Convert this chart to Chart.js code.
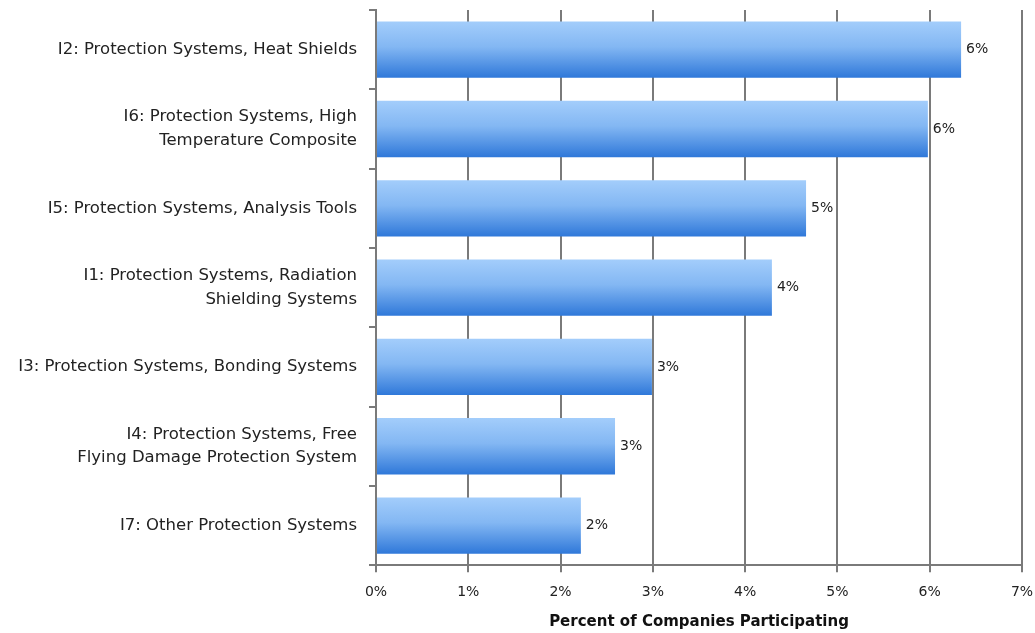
<!DOCTYPE html>
<html>
<head>
<meta charset="utf-8">
<script src="https://cdn.jsdelivr.net/npm/chart.js@4/dist/chart.umd.min.js"></script>
<style>
  html, body { margin: 0; padding: 0; background: #fff; }
  #wrap { width: 1035px; height: 633px; }
</style>
</head>
<body>
<div id="wrap"><canvas id="chart"></canvas></div>
<script>
const categories = [
  "I2: Protection Systems, Heat Shields",
  ["I6: Protection Systems, High", "Temperature Composite"],
  "I5: Protection Systems, Analysis Tools",
  ["I1: Protection Systems, Radiation", "Shielding Systems"],
  "I3: Protection Systems, Bonding Systems",
  ["I4: Protection Systems, Free", "Flying Damage Protection System"],
  "I7: Other Protection Systems"
];
const percentValues = [6.34, 5.98, 4.66, 4.29, 2.99, 2.59, 2.22];
const valueLabels = ["6%", "6%", "5%", "4%", "3%", "3%", "2%"];
const xTicks = [0, 1, 2, 3, 4, 5, 6, 7];

const barPct = 0.71;
const fontFamily = "'DejaVu Sans', sans-serif";

function barGradient(ctx) {
  const chart = ctx.chart;
  const yScale = chart.scales.y;
  if (!chart.chartArea || !yScale) return "#5fa0ec";
  const band = (yScale.bottom - yScale.top) / categories.length;
  const cy = yScale.getPixelForValue(ctx.dataIndex);
  const h = band * barPct / 2;
  const g = chart.ctx.createLinearGradient(0, cy - h, 0, cy + h);
  g.addColorStop(0, "#a3cdfb");
  g.addColorStop(0.45, "#83b7f3");
  g.addColorStop(1, "#2f78d9");
  return g;
}

// percent labels just past the end of each bar
const valueLabelPlugin = {
  id: "valueLabels",
  afterDatasetsDraw(chart) {
    const c = chart.ctx;
    const meta = chart.getDatasetMeta(0);
    c.save();
    c.font = "14px " + fontFamily;
    c.fillStyle = "#222";
    c.textBaseline = "middle";
    meta.data.forEach((bar, i) => {
      c.fillText(valueLabels[i], bar.x + 5, bar.y);
    });
    c.restore();
  }
};

new Chart(document.getElementById("chart"), {
  type: "bar",
  data: {
    labels: categories,
    datasets: [{
      data: percentValues,
      backgroundColor: barGradient,
      borderWidth: 0,
      barPercentage: barPct,
      categoryPercentage: 1
    }]
  },
  options: {
    indexAxis: "y",
    responsive: true,
    maintainAspectRatio: false,
    animation: false,
    layout: { padding: 0 },
    plugins: {
      legend: { display: false },
      tooltip: { enabled: false }
    },
    scales: {
      x: {
        min: 0,
        max: 7,
        afterBuildTicks(axis) {
          axis.ticks = xTicks.map(v => ({ value: v }));
        },
        afterFit(axis) {
          axis.paddingRight = 13;
        },
        ticks: {
          callback: v => v + "%",
          font: { family: fontFamily, size: 14 },
          color: "#222",
          padding: 12
        },
        grid: {
          color: "#7a7a7a",
          lineWidth: 2,
          tickLength: 7
        },
        border: { color: "#7a7a7a", width: 2 },
        title: {
          display: true,
          text: "Percent of Companies Participating",
          font: { family: fontFamily, size: 15, weight: "bold" },
          color: "#111",
          padding: { top: 0, bottom: 2 }
        }
      },
      y: {
        afterFit(axis) {
          axis.width = 376;
          axis.paddingTop = 10;
          axis.paddingBottom = 0;
        },
        ticks: {
          font: { family: fontFamily, size: 16.5, lineHeight: 1.45 },
          color: "#222",
          padding: 12
        },
        grid: {
          drawOnChartArea: false,
          color: "#7a7a7a",
          lineWidth: 2,
          tickLength: 7
        },
        border: { color: "#7a7a7a", width: 2 }
      }
    }
  },
  plugins: [valueLabelPlugin]
});
</script>
</body>
</html>
